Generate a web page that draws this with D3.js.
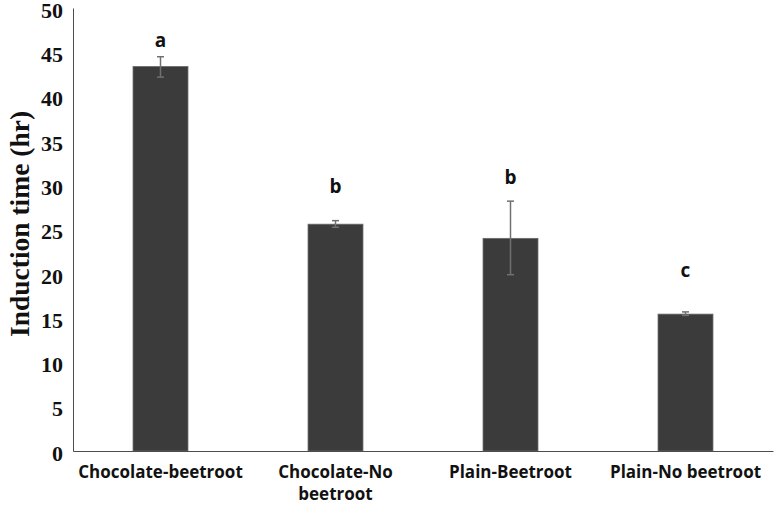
<!DOCTYPE html>
<html>
<head>
<meta charset="utf-8">
<style>
body { margin: 0; background: #fff; }
.axis .domain { stroke: #4d4d4d; }
.ylab text { font-family: "Liberation Serif", "Times New Roman", serif; font-weight: bold; font-size: 22px; fill: #111; }
.xlab text { font-family: "Open Sans", "Noto Sans", sans-serif; font-weight: bold; font-size: 17px; fill: #111; }
</style>
</head>
<body>
<svg width="774" height="505"></svg>
<script src="https://d3js.org/d3.v7.min.js"></script>
<script>

// induction time per sample
var categories = ["Chocolate-beetroot", "Chocolate-No beetroot", "Plain-Beetroot", "Plain-No beetroot"];
var means = [43.4, 25.6, 24.0, 15.45];
var errLow = [42.2, 25.25, 19.9, 15.3];
var errHigh = [44.5, 26.0, 28.2, 15.7];
var letters = ["a", "b", "b", "c"];
var letterAt = [46.2, 29.8, 30.8, 20.3];
var yTicks = [0, 5, 10, 15, 20, 25, 30, 35, 40, 45, 50];

var svg = d3.select("svg"),
    margin = {top: 8, right: 1, bottom: 54, left: 73},
    width = +svg.attr("width") - margin.left - margin.right,
    height = +svg.attr("height") - margin.top - margin.bottom,
    g = svg.append("g").attr("transform", "translate(" + margin.left + "," + margin.top + ")");

var x = d3.scaleBand()
    .domain(categories)
    .range([0, width])
    .paddingInner(0.686)
    .paddingOuter(0.343);

var y = d3.scaleLinear()
    .domain([0, 50])
    .range([height, 0]);

var data = categories.map(function(c, i) {
  return {cat: c, v: means[i], lo: errLow[i], hi: errHigh[i], letter: letters[i], ly: letterAt[i]};
});

// bars
g.selectAll("rect.bar")
  .data(data)
  .enter().append("rect")
    .attr("class", "bar")
    .attr("x", function(d) { return x(d.cat); })
    .attr("y", function(d) { return y(d.v); })
    .attr("width", x.bandwidth())
    .attr("height", function(d) { return height - y(d.v); })
    .attr("fill", "#3b3b3b")
    .attr("stroke", "#6a6a6a")
    .attr("stroke-width", 0.8);

// error bars
var eb = g.selectAll("g.err")
  .data(data)
  .enter().append("g")
    .attr("class", "err")
    .attr("stroke", "#707070")
    .attr("stroke-width", 1.5)
    .attr("transform", function(d) { return "translate(" + (x(d.cat) + x.bandwidth() / 2) + ",0)"; });

eb.append("line")
    .attr("y1", function(d) { return y(d.lo); })
    .attr("y2", function(d) { return y(d.hi); });
eb.append("line")
    .attr("x1", -3.5).attr("x2", 3.5)
    .attr("y1", function(d) { return y(d.hi); })
    .attr("y2", function(d) { return y(d.hi); });
eb.append("line")
    .attr("x1", -3.5).attr("x2", 3.5)
    .attr("y1", function(d) { return y(d.lo); })
    .attr("y2", function(d) { return y(d.lo); });

// significance letters
g.selectAll("text.letter")
  .data(data)
  .enter().append("text")
    .attr("class", "letter")
    .attr("x", function(d) { return x(d.cat) + x.bandwidth() / 2; })
    .attr("y", function(d) { return y(d.ly); })
    .attr("dy", "0.3em")
    .attr("text-anchor", "middle")
    .attr("font-family", "'Open Sans', 'Noto Sans', sans-serif")
    .attr("font-weight", "bold")
    .attr("font-size", 19)
    .attr("fill", "#111")
    .text(function(d) { return d.letter; });

// y axis
g.append("g")
    .attr("class", "axis ylab")
    .call(d3.axisLeft(y).tickValues(yTicks).tickSize(0).tickPadding(10))
    .call(function(a) { a.selectAll("text").attr("dy", "0.42em"); });

// x axis
g.append("g")
    .attr("class", "axis xlab")
    .attr("transform", "translate(0," + height + ")")
    .call(d3.axisBottom(x).tickSize(0).tickPadding(15))
    .selectAll(".tick text")
    .call(wrap, x.step() - 4);

// y title
svg.append("text")
    .attr("transform", "translate(19," + 224 + ") rotate(-90)")
    .attr("text-anchor", "middle")
    .attr("dy", "0.35em")
    .attr("font-family", "'Liberation Serif', 'Times New Roman', serif")
    .attr("font-weight", "bold")
    .attr("font-size", 27.5)
    .attr("fill", "#111")
    .text("Induction time (hr)");

function wrap(text, w) {
  text.each(function() {
    var t = d3.select(this),
        words = t.text().split(/\s+/).reverse(),
        word, line = [], lineNo = 0,
        yy = t.attr("y"), dy = parseFloat(t.attr("dy")) || 0,
        tspan = t.text(null).append("tspan").attr("x", 0).attr("y", yy).attr("dy", dy + "em");
    while ((word = words.pop())) {
      line.push(word);
      tspan.text(line.join(" "));
      if (tspan.node().getComputedTextLength() > w && line.length > 1) {
        line.pop();
        tspan.text(line.join(" "));
        line = [word];
        tspan = t.append("tspan").attr("x", 0).attr("y", yy)
          .attr("dy", (++lineNo * 1.3 + dy) + "em").text(word);
      }
    }
  });
}

</script>
</body>
</html>
